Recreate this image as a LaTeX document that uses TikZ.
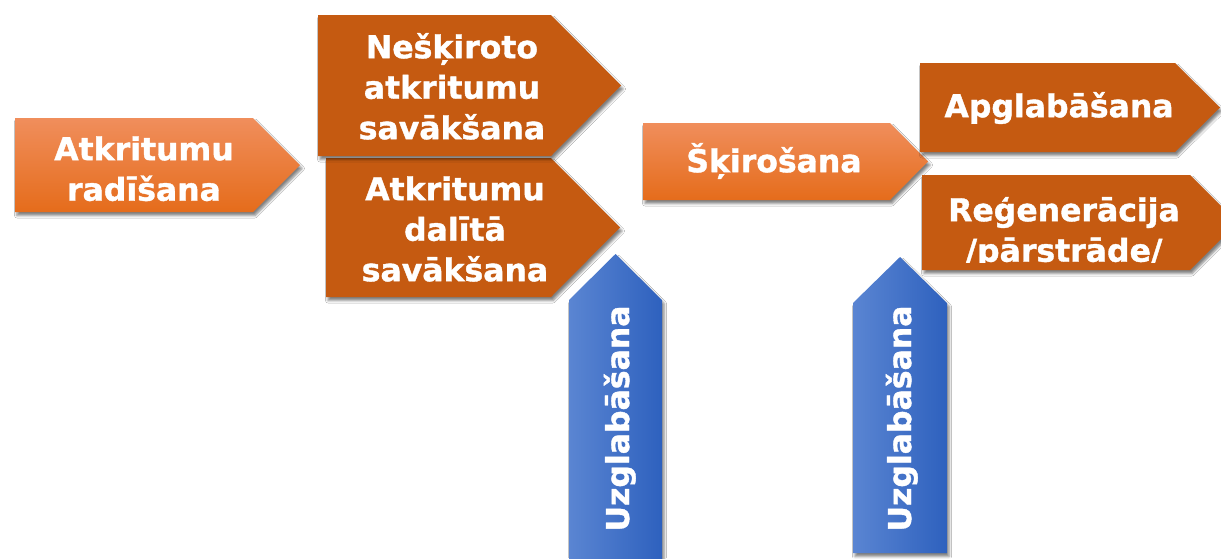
\documentclass[tikz,border=0pt]{standalone}
\usepackage{fontspec}
\setmainfont{DejaVu Sans}[BoldFeatures={FakeBold=1.2}]
\usepackage{xcolor}
\definecolor{wsortop}{HTML}{F08E5C}
\definecolor{wsorbot}{HTML}{E56C1B}
\definecolor{wsbrown}{HTML}{C55A11}
\definecolor{wsblueleft}{HTML}{5A85D2}
\definecolor{wsblueright}{HTML}{2E61BE}
\usepackage{tikz}
\usetikzlibrary{shadows.blur}
\newcommand{\lnstrut}{\rule[-9pt]{0pt}{39pt}}

\begin{document}
\begin{tikzpicture}[
  x=1pt, y=-1pt,
  shdw/.style={blur shadow={shadow xshift=2pt, shadow yshift=-3.5pt,
    shadow blur radius=2.5pt, shadow opacity=50}},
  orangebox/.style={shdw, top color=wsortop, bottom color=wsorbot},
  brownbox/.style={shdw, fill=wsbrown},
  bluebox/.style={shdw, left color=wsblueleft, right color=wsblueright},
  lbl/.style={text=white, align=center, inner sep=0pt, anchor=north,
    font=\fontsize{31.5}{40.5}\selectfont\bfseries},
  vlbl/.style={text=white, inner sep=0pt, anchor=base, rotate=90,
    font=\fontsize{31.5}{40.5}\selectfont\bfseries}
]
  \useasboundingbox[fill=white] (0,0) rectangle (1221,558);

  % left: generation and collection
  \path[orangebox] (15,118) -- (253,118) -- (300,165) -- (253,212) -- (15,212) -- cycle;
  \path[brownbox] (326,158) -- (551,158) -- (620,227.5) -- (551,297) -- (326,297) -- cycle;
  \path[brownbox] (318,15) -- (551,15) -- (621,85.5) -- (551,156) -- (318,156) -- cycle;
  \path[bluebox] (569,565) -- (569,300) -- (615.5,254) -- (662,300) -- (662,565) -- cycle;

  % right: sorting and treatment
  \path[orangebox] (643,123) -- (890,123) -- (928,161.5) -- (890,200) -- (643,200) -- cycle;
  \path[brownbox] (920,63) -- (1175,63) -- (1220,107.5) -- (1175,152) -- (920,152) -- cycle;
  \path[brownbox] (922,175) -- (1190,175) -- (1237.5,222.5) -- (1190,270) -- (922,270) -- cycle;
  \path[bluebox] (853,553) -- (853,303) -- (900,257) -- (947,303) -- (947,553) -- cycle;

  % labels
  \node[lbl] (gen) at (144,130) {\lnstrut Atkritumu\\\lnstrut radīšana};
  \node[lbl] (mixed) at (452,28) {\lnstrut Nešķiroto\\\lnstrut atkritumu\\\lnstrut savākšana};
  \node[lbl] (separate) at (455,170) {\lnstrut Atkritumu\\\lnstrut dalītā\\\lnstrut savākšana};
  \node[lbl] (sorting) at (774,142) {\lnstrut Šķirošana};
  \node[lbl] (landfill) at (1059,87) {\lnstrut Apglabāšana};
  \begin{scope}
    \clip (922,175) rectangle (1221,262);
    \node[lbl] (recycle) at (1064,191) {\lnstrut Reģenerācija\\\lnstrut /pārstrāde/};
  \end{scope}
  \node[vlbl] (storeA) at (629,418.5) {Uzglabāšana};
  \node[vlbl] (storeB) at (911,418.5) {Uzglabāšana};
\end{tikzpicture}
\end{document}
